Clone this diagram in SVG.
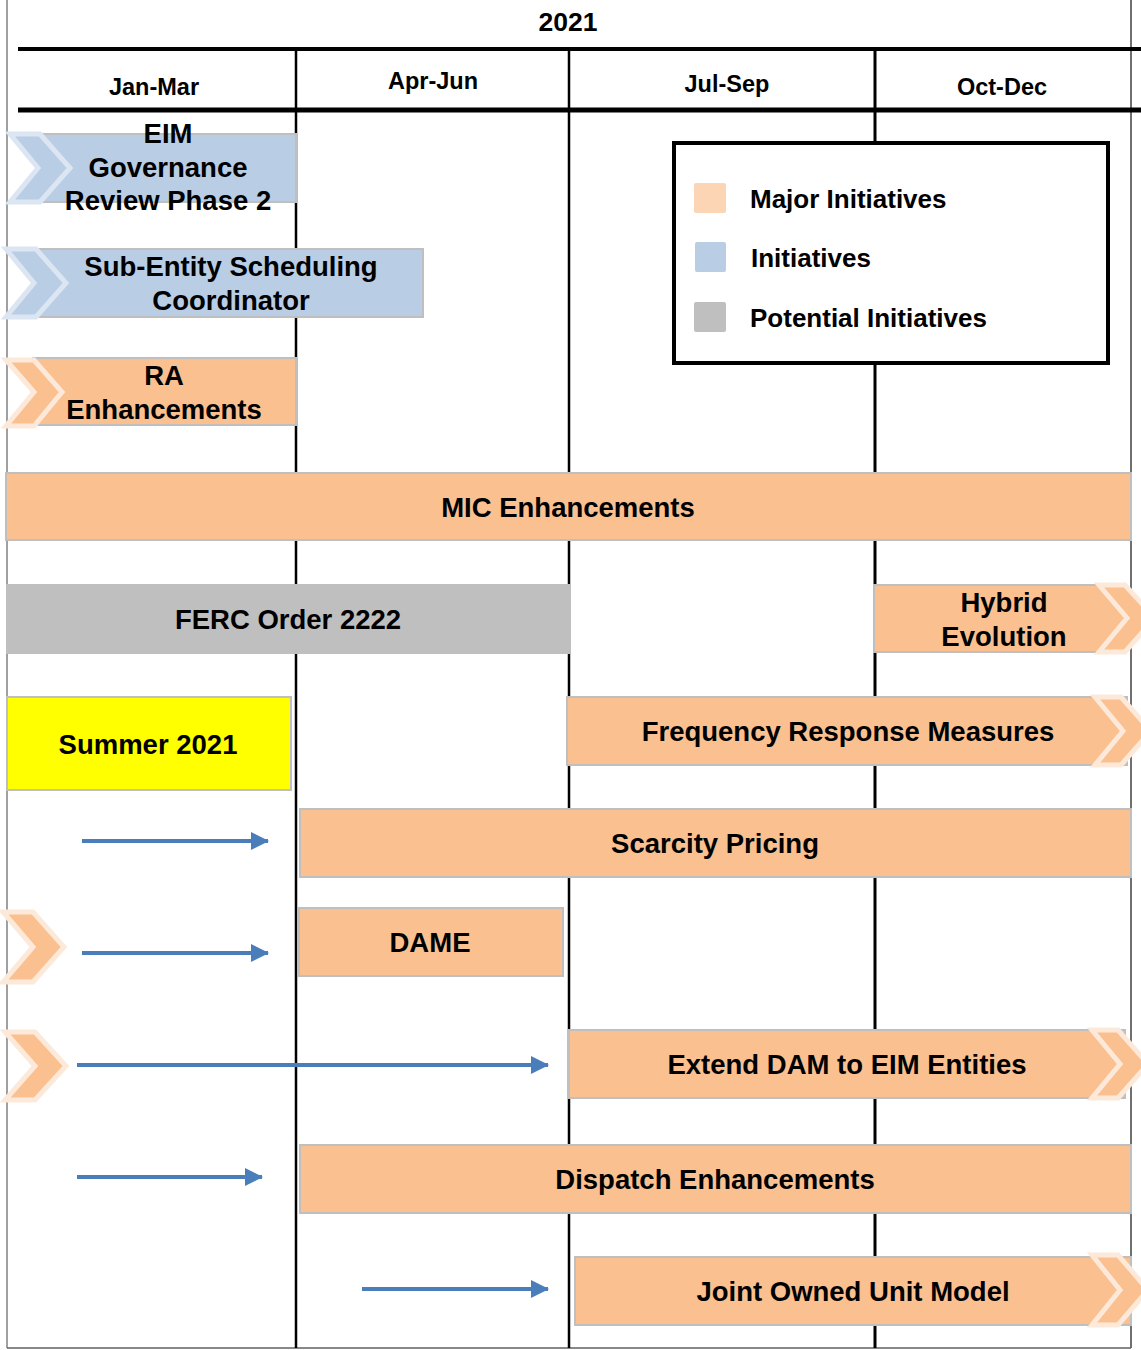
<svg xmlns="http://www.w3.org/2000/svg" width="1141" height="1350" viewBox="0 0 1141 1350">
<style>
text{font-family:"Liberation Sans",Arial,sans-serif;font-weight:bold;fill:#000;text-anchor:middle}
.bar{font-size:27.5px}
.hdr{font-size:23.5px}
.leg{font-size:26px;text-anchor:start}
.or{fill:#FAC090;stroke:#BFBFBF;stroke-width:2}
.bl{fill:#B9CDE5;stroke:#BFBFBF;stroke-width:2}
.gr{fill:#BFBFBF;stroke:#BFBFBF;stroke-width:2}
.chO{fill:#FAC090;stroke:#FDE9D9;stroke-width:5;stroke-linejoin:miter}
.chB{fill:#B9CDE5;stroke:#DCE6F2;stroke-width:5;stroke-linejoin:miter}
.arr{stroke:#4A7EBB;stroke-width:4;fill:none}
</style>
<defs>
<marker id="ah" markerUnits="userSpaceOnUse" markerWidth="20" markerHeight="20" refX="17" refY="9" orient="auto">
<path d="M0,0 L18,9 L0,18 Z" fill="#4A7EBB"/>
</marker>
</defs>
<rect width="1141" height="1350" fill="#fff"/>
<g id="grid">
<line x1="7" y1="0" x2="7" y2="1348" stroke="#808080" stroke-width="1.5"/>
<line x1="1131" y1="0" x2="1131" y2="1348" stroke="#404040" stroke-width="1.5"/>
<line x1="7" y1="1348" x2="1131" y2="1348" stroke="#606060" stroke-width="1.5"/>
<line x1="296" y1="50" x2="296" y2="1348" stroke="#000" stroke-width="2.5"/>
<line x1="569" y1="50" x2="569" y2="1348" stroke="#000" stroke-width="2.5"/>
<line x1="875" y1="50" x2="875" y2="1348" stroke="#000" stroke-width="3"/>
<line x1="18" y1="49" x2="1141" y2="49" stroke="#000" stroke-width="4"/>
<line x1="18" y1="110" x2="1141" y2="110" stroke="#000" stroke-width="5"/>
</g>
<g id="header">
<text class="hdr" x="568" y="31" style="font-size:26.5px">2021</text>
<text class="hdr" x="154" y="95">Jan-Mar</text>
<text class="hdr" x="433" y="89">Apr-Jun</text>
<text class="hdr" x="727" y="92">Jul-Sep</text>
<text class="hdr" x="1002" y="95">Oct-Dec</text>
</g>
<g id="legend">
<rect x="674" y="143" width="434" height="220" fill="#fff" stroke="#000" stroke-width="4"/>
<rect x="694" y="183" width="32" height="30" rx="2" fill="#FCD5B5"/>
<rect x="695" y="242" width="31" height="30" rx="2" fill="#B9CDE5"/>
<rect x="694" y="302" width="32" height="30" rx="2" fill="#BFBFBF"/>
<text class="leg" x="750" y="208">Major Initiatives</text>
<text class="leg" x="751" y="267">Initiatives</text>
<text class="leg" x="750" y="327">Potential Initiatives</text>
</g>
<g id="connectors">
<line class="arr" x1="82" y1="841" x2="268" y2="841" marker-end="url(#ah)"/>
<line class="arr" x1="82" y1="953" x2="268" y2="953" marker-end="url(#ah)"/>
<line class="arr" x1="77" y1="1065" x2="548" y2="1065" marker-end="url(#ah)"/>
<line class="arr" x1="77" y1="1177" x2="262" y2="1177" marker-end="url(#ah)"/>
<line class="arr" x1="362" y1="1289" x2="548" y2="1289" marker-end="url(#ah)"/>
</g>
<g id="eim">
<rect class="bl" x="38" y="134" width="258" height="68"/>
<polygon class="chB" points="10,134 40,134 70,168 40,202 10,202 38,168"/>
<text class="bar" x="168" y="143">EIM</text>
<text class="bar" x="168" y="177">Governance</text>
<text class="bar" x="168" y="210">Review Phase 2</text>
</g>
<g id="subentity">
<rect class="bl" x="36" y="249" width="387" height="68"/>
<polygon class="chB" points="6,249 36,249 66,283 36,317 6,317 34,283"/>
<text class="bar" x="231" y="276">Sub-Entity Scheduling</text>
<text class="bar" x="231" y="310">Coordinator</text>
</g>
<g id="ra">
<rect class="or" x="33" y="358" width="263" height="67"/>
<polygon class="chO" points="6,360 34,360 62,392 34,426 6,426 34,392"/>
<text class="bar" x="164" y="385">RA</text>
<text class="bar" x="164" y="419">Enhancements</text>
</g>
<g id="mic">
<rect class="or" x="6" y="473" width="1125" height="67"/>
<text class="bar" x="568" y="517">MIC Enhancements</text>
</g>
<g id="ferc">
<rect class="gr" x="7" y="585" width="563" height="68"/>
<text class="bar" x="288" y="629">FERC Order 2222</text>
</g>
<g id="hybrid">
<rect class="or" x="874" y="585" width="250" height="67"/>
<polygon class="chO" points="1099,585 1125,585 1155,618 1125,652 1099,652 1127,618"/>
<text class="bar" x="1004" y="612">Hybrid</text>
<text class="bar" x="1004" y="646">Evolution</text>
</g>
<g id="summer">
<rect x="7" y="697" width="284" height="93" fill="#FFFF00" stroke="#BFBFBF" stroke-width="2"/>
<text class="bar" x="148" y="754">Summer 2021</text>
</g>
<g id="frequency">
<rect class="or" x="567" y="697" width="560" height="68"/>
<polygon class="chO" points="1095,697 1121,697 1151,731 1121,765 1095,765 1123,731"/>
<text class="bar" x="848" y="741">Frequency Response Measures</text>
</g>
<g id="scarcity">
<rect class="or" x="300" y="809" width="831" height="68"/>
<text class="bar" x="715" y="853">Scarcity Pricing</text>
</g>
<g id="dame">
<polygon class="chO" points="3,912 33,912 64,947 33,982 3,982 33,947"/>
<rect class="or" x="299" y="908" width="264" height="68"/>
<text class="bar" x="430" y="952">DAME</text>
</g>
<g id="extend">
<polygon class="chO" points="5,1032 35,1032 66,1066 35,1100 5,1100 35,1066"/>
<rect class="or" x="569" y="1030" width="556" height="68"/>
<polygon class="chO" points="1092,1030 1118,1030 1148,1064 1118,1098 1092,1098 1120,1064"/>
<text class="bar" x="847" y="1074">Extend DAM to EIM Entities</text>
</g>
<g id="dispatch">
<rect class="or" x="300" y="1145" width="831" height="68"/>
<text class="bar" x="715" y="1189">Dispatch Enhancements</text>
</g>
<g id="joint">
<rect class="or" x="575" y="1257" width="556" height="68"/>
<polygon class="chO" points="1092,1255 1118,1255 1148,1290 1118,1325 1092,1325 1120,1290"/>
<text class="bar" x="853" y="1301">Joint Owned Unit Model</text>
</g>
</svg>
